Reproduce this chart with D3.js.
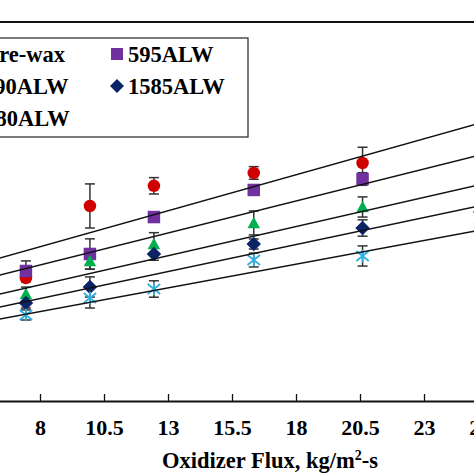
<!DOCTYPE html>
<html><head><meta charset="utf-8">
<script src="https://cdn.jsdelivr.net/npm/d3@7"></script>
<style>
html,body{margin:0;padding:0;background:#fff;overflow:hidden}
svg{display:block}
text{font-family:"Liberation Serif","Times New Roman",serif;font-weight:bold;fill:#000}
</style></head>
<body>
<script>
// ---- data ----
const xTicks = [8, 10.5, 13, 15.5, 18, 20.5, 23, 25.5];
const fluxes = [7.45, 9.95, 12.45, 16.35, 20.6, 25.2];
const seriesNames = ["Pure-wax", "595ALW", "1190ALW", "1585ALW", "1980ALW"];
const pureWax  = [0.968, 1.540, 1.700, 1.802, 1.881, 1.984];
const alw595   = [1.024, 1.159, 1.452, 1.667, 1.754, 1.841];
const alw1190  = [0.841, 1.103, 1.238, 1.405, 1.532, 1.651];
const alw1585  = [0.770, 0.897, 1.159, 1.238, 1.365, 1.492];
const alw1980  = [0.675, 0.810, 0.881, 1.111, 1.143, 1.365];
const errPureWax = [0.03, 0.175, 0.065, 0.05, 0.125, 0.10];
const err595     = [0.08, 0.12, 0.04, 0.04, 0.05, 0.06];
const err1190    = [0.055, 0.065, 0.09, 0.095, 0.08, 0.065];
const err1585    = [0.04, 0.08, 0.05, 0.04, 0.065, 0.065];
const err1980    = [0.04, 0.08, 0.065, 0.055, 0.08, 0.08];
const fitIntercept = [0.7594, 0.6651, 0.5431, 0.4621, 0.4009];
const fitSlope     = [0.05709, 0.05079, 0.04632, 0.04287, 0.03759];
const fitRange = [5, 28];

const colors = ["#d00000", "#7030a0", "#00b050", "#0a2466", "#2fb0e0"];
const shapes = ["circle", "square", "triangle", "diamond", "star"];
const values = [pureWax, alw595, alw1190, alw1585, alw1980];
const errors = [errPureWax, err595, err1190, err1585, err1980];

const W = 474, H = 474;
const svg = d3.select("body").append("svg").attr("width", W).attr("height", H);
svg.append("rect").attr("width", W).attr("height", H).attr("fill", "#fff");

const x = d3.scaleLinear().domain([5, 28]).range([40 - 3 * 25.6, 424 + 5 * 25.6]);
const y = d3.scaleLinear().domain([0, 3]).range([400, 22]);

function markerPath(shape, s) {
  const h = s / 2;
  switch (shape) {
    case "circle": return d3.symbol(d3.symbolCircle, Math.PI * h * h)();
    case "square": return `M${-h},${-h}H${h}V${h}H${-h}Z`;
    case "triangle": return `M0,${-h}L${h},${h - 1}L${-h},${h - 1}Z`;
    case "diamond": return `M0,${-h - 1}L${h + 1},0L0,${h + 1}L${-h - 1},0Z`;
    case "star": return `M0,${-h}V${h}M${-h},${-h * 0.8}L${h},${h * 0.8}M${-h},${h * 0.8}L${h},${-h * 0.8}`;
  }
}

// top border of plot area
svg.append("line").attr("x1", x(5)).attr("x2", x(28)).attr("y1", y(3)).attr("y2", y(3))
  .attr("stroke", "#111").attr("stroke-width", 2);

// x axis
const xAxis = d3.axisBottom(x).tickValues(xTicks).tickSizeInner(-7).tickSizeOuter(0)
  .tickFormat(d => String(d));
const gx = svg.append("g").attr("transform", `translate(0,${y(0) + 1})`).call(xAxis);
gx.select(".domain").attr("stroke", "#111").attr("stroke-width", 2);
gx.selectAll(".tick line").attr("stroke", "#111").attr("stroke-width", 1.3);
gx.selectAll(".tick text").attr("y", 34).attr("dy", 0)
  .style("font-size", "22px").style("font-family", "'Liberation Serif','Times New Roman',serif")
  .style("font-weight", "bold").attr("fill", "#000");

// axis title
const t = svg.append("text").attr("x", 270).attr("y", 468).attr("text-anchor", "middle")
  .style("font-size", "22.5px");
t.append("tspan").text("Oxidizer Flux, kg/m");
t.append("tspan").text("2").style("font-size", "14px").attr("dy", -8);
t.append("tspan").text("-s").attr("dy", 8);

// error bars + markers
values.forEach((vals, si) => {
  const g = svg.append("g");
  vals.forEach((v, i) => {
    const e = errors[si][i];
    const cx = x(fluxes[i]);
    g.append("line").attr("x1", cx).attr("x2", cx).attr("y1", y(v - e)).attr("y2", y(v + e))
      .attr("stroke", "#333").attr("stroke-width", 1.5);
    [v - e, v + e].forEach(b => g.append("line").attr("x1", cx - 5).attr("x2", cx + 5)
      .attr("y1", y(b)).attr("y2", y(b)).attr("stroke", "#333").attr("stroke-width", 1.5));
  });
});
values.forEach((vals, si) => {
  const sh = shapes[si];
  svg.append("g").selectAll("path").data(vals).join("path")
    .attr("transform", (v, i) => `translate(${x(fluxes[i])},${y(v)})`)
    .attr("d", markerPath(sh, 12.5))
    .attr("fill", sh === "star" ? "none" : colors[si])
    .attr("stroke", colors[si]).attr("stroke-width", sh === "star" ? 1.8 : 0);
});

// trendlines
const line = d3.line().x(d => x(d[0])).y(d => y(d[1]));
fitIntercept.forEach((a, i) => {
  const pts = fitRange.map(xx => [xx, a + fitSlope[i] * xx]);
  svg.append("path").attr("d", line(pts)).attr("fill", "none")
    .attr("stroke", "#111").attr("stroke-width", 1.5);
});

// legend (two columns, row-major)
const lg = svg.append("g");
lg.append("rect").attr("x", -150).attr("y", 38).attr("width", 398).attr("height", 99)
  .attr("fill", "#fff").attr("stroke", "#333").attr("stroke-width", 1.3);
const colX = [-27, 128], rowY = [62, 94, 126];
seriesNames.forEach((name, i) => {
  const cx = colX[i % 2], cy = rowY[Math.floor(i / 2)];
  lg.append("path").attr("transform", `translate(${cx - 11},${cy - 8})`)
    .attr("d", markerPath(shapes[i], 12))
    .attr("fill", shapes[i] === "star" ? "none" : colors[i])
    .attr("stroke", colors[i]).attr("stroke-width", shapes[i] === "star" ? 1.6 : 0);
  lg.append("text").attr("x", cx).attr("y", cy).style("font-size", "22.5px").text(name);
});
</script>
</body></html>
